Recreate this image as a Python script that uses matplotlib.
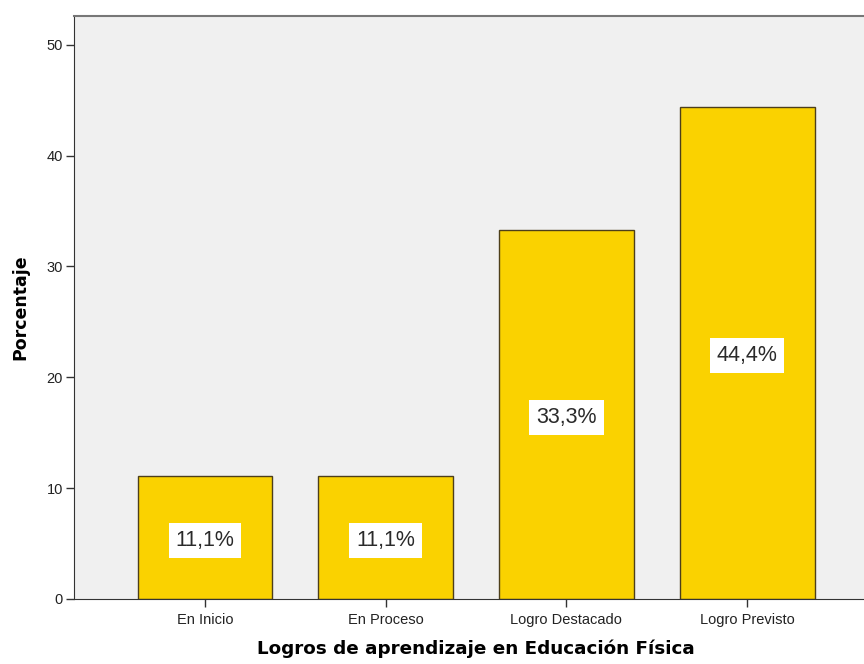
import matplotlib
matplotlib.use("Agg")
import matplotlib.pyplot as plt

categories = ["En Inicio", "En Proceso", "Logro Destacado", "Logro Previsto"]
values = [11.1, 11.1, 33.3, 44.4]
labels = ["11,1%", "11,1%", "33,3%", "44,4%"]
yticks = [0, 10, 20, 30, 40, 50]

plt.rcParams['font.family'] = ['Liberation Sans', 'DejaVu Sans']

fig = plt.figure(figsize=(8.64, 6.64), dpi=100)
ax = fig.add_axes([74/864, 65/664, 790/864, 583/664])
ax.set_facecolor('#f0f0f0')

x = list(range(len(categories)))
ax.bar(x, values, width=0.747, color='#fad200', edgecolor='#4d3f1a', linewidth=1.0, zorder=2)
for xi, v, lab in zip(x, values, labels):
    ax.annotate(lab, xy=(xi, v / 2), xytext=(0, -2), textcoords='offset points',
                ha='center', va='center', fontsize=15.5, color='#2a2a2a',
                bbox=dict(boxstyle='square,pad=0.32', facecolor='white', edgecolor='none'), zorder=3)

ax.set_xlim(-0.725, 3.647)
ax.set_ylim(0, 52.6)
ax.set_xticks(x)
ax.set_xticklabels(categories, fontsize=10.5)
ax.set_yticks(yticks)
ax.set_yticklabels([str(t) for t in yticks], fontsize=10.5)
ax.tick_params(axis='both', length=6, width=1, color='#333333', labelcolor='#222222')
ax.tick_params(axis='x', pad=4)
ax.tick_params(axis='y', pad=2)

ax.spines['right'].set_visible(False)
ax.spines['top'].set_color('#777777')
ax.spines['top'].set_linewidth(1.5)
ax.spines['left'].set_color('#333333')
ax.spines['bottom'].set_color('#333333')

ax.set_xlabel('Logros de aprendizaje en Educación Física', fontsize=13.2, fontweight='bold',
              family='DejaVu Sans')
ax.xaxis.set_label_coords(0.509, -0.070)
ax.set_ylabel('Porcentaje', fontsize=12.5, fontweight='bold', family='DejaVu Sans', labelpad=12)

fig.savefig('out.png', dpi=100)
